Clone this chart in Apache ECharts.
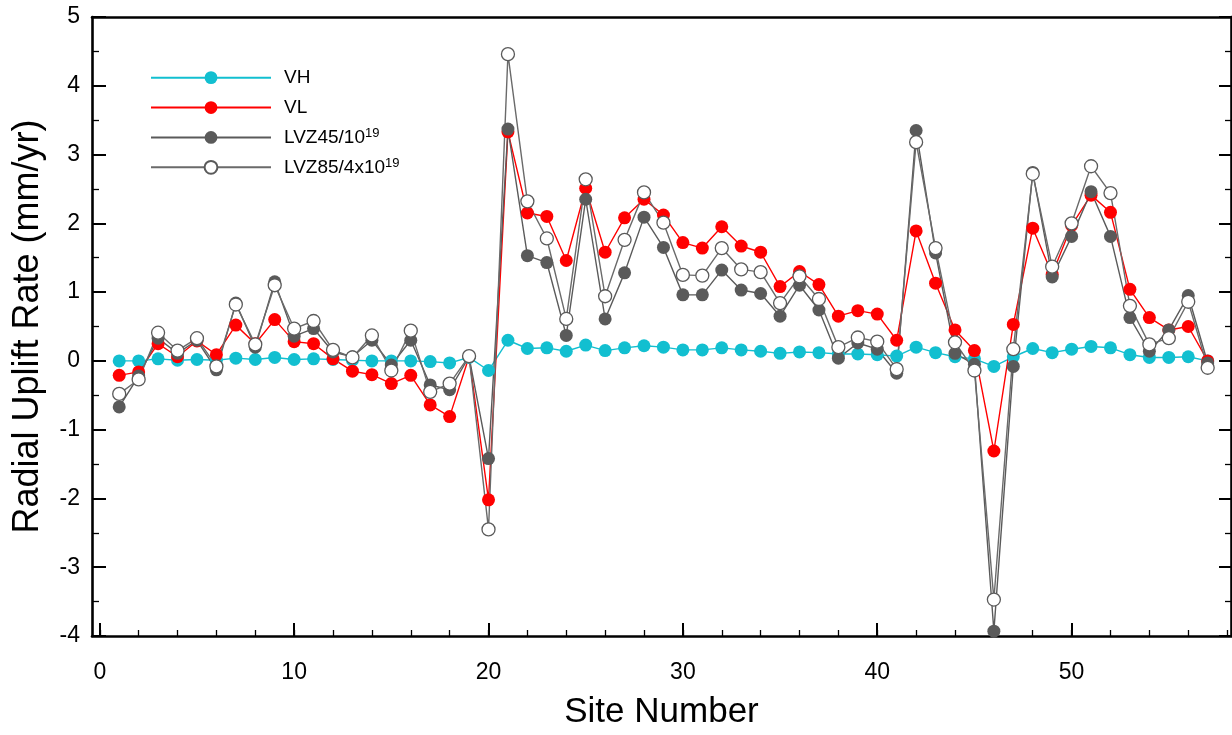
<!DOCTYPE html>
<html><head><meta charset="utf-8">
<script src="https://cdn.jsdelivr.net/npm/echarts@6/dist/echarts.min.js"></script>
<style>html,body{margin:0;padding:0;background:#fff;overflow:hidden}#c{width:1232px;height:735px}</style>
</head><body><div id="c"></div>
<script>
const sites = Array.from({length:57},(_,i)=>i+1);
const VH = [0.00,0.00,0.03,0.01,0.02,0.01,0.04,0.02,0.05,0.02,
  0.03,0.02,0.01,0.00,0.00,0.00,-0.01,-0.03,0.05,-0.14,
  0.30,0.18,0.19,0.14,0.23,0.15,0.19,0.22,0.20,0.16,
  0.16,0.19,0.16,0.14,0.11,0.13,0.12,0.10,0.10,0.09,
  0.07,0.20,0.12,0.06,0.03,-0.08,0.06,0.18,0.12,0.17,
  0.21,0.19,0.09,0.05,0.05,0.06,0.00];
const VL = [-0.21,-0.16,0.25,0.06,0.29,0.09,0.52,0.25,0.60,0.28,
  0.25,0.03,-0.15,-0.20,-0.33,-0.21,-0.64,-0.81,0.06,-2.02,
  3.33,2.15,2.10,1.46,2.51,1.58,2.08,2.35,2.12,1.72,
  1.64,1.95,1.67,1.58,1.08,1.30,1.11,0.65,0.73,0.68,
  0.30,1.89,1.13,0.45,0.15,-1.31,0.53,1.93,1.26,1.97,
  2.41,2.16,1.04,0.63,0.45,0.50,0.00];
const LVZ45 = [-0.67,-0.22,0.33,0.11,0.30,-0.13,0.84,0.20,1.15,0.36,
  0.47,0.13,0.06,0.30,-0.06,0.30,-0.35,-0.42,0.06,-1.42,
  3.37,1.53,1.43,0.37,2.35,0.61,1.28,2.09,1.65,0.96,
  0.96,1.32,1.03,0.98,0.65,1.10,0.74,0.04,0.26,0.17,
  -0.18,3.35,1.57,0.11,-0.05,-3.93,-0.08,2.74,1.22,1.81,
  2.46,1.81,0.63,0.14,0.45,0.95,-0.03];
const LVZ85 = [-0.48,-0.27,0.41,0.15,0.33,-0.08,0.82,0.24,1.10,0.47,
  0.58,0.16,0.05,0.37,-0.14,0.44,-0.45,-0.33,0.07,-2.45,
  4.46,2.32,1.78,0.61,2.64,0.94,1.76,2.45,2.01,1.25,
  1.24,1.64,1.33,1.29,0.84,1.23,0.90,0.20,0.34,0.28,
  -0.12,3.18,1.64,0.27,-0.14,-3.47,0.17,2.72,1.37,2.00,
  2.83,2.44,0.80,0.24,0.33,0.86,-0.10];
const xMajor = [0,10,20,30,40,50];
const xMinor = [0,2,4,6,8,10,12,14,16,18,20,22,24,26,28,30,32,34,36,38,40,42,44,46,48,50,52,54,56,58];
const seriesNames = ['VH','VL','LVZ45/10^19','LVZ85/4x10^19'];

const FONT = '"Liberation Sans", Arial, Helvetica, sans-serif';
const pairs = arr => sites.map((s,i)=>[s, arr[i]]);
const xCommon = {type:'value', min:-0.4, max:58.2, gridIndex:0, splitLine:{show:false}};
const yCommon = {type:'value', min:-4, max:5, interval:1, splitLine:{show:false}};
const axLine = {show:true, onZero:false, lineStyle:{color:'#000', width:2.6}};

const chart = echarts.init(document.getElementById('c'), null, {renderer:'canvas', width:1232, height:735});
chart.setOption({
  animation:false,
  backgroundColor:'#fff',
  grid:{left:92, width:1139, top:17, height:638, containLabel:false},
  legend:{
    orient:'vertical', left:145, top:62, itemWidth:120, itemHeight:16, itemGap:8.6,
    data: seriesNames,
    formatter: n => n.replace('^19','{sup|19}'),
    textStyle:{fontFamily:FONT, fontSize:19, color:'#000', lineHeight:21.3, padding:[0,0,0,8],
      rich:{sup:{fontFamily:FONT, fontSize:13, verticalAlign:'top', lineHeight:21.3, padding:[0,0,6,0]}}}
  },
  xAxis:[
    Object.assign({}, xCommon, {position:'bottom', axisLine:axLine,
      axisTick:{show:true, inside:true, length:13, customValues:xMajor, lineStyle:{color:'#000', width:2}},
      axisLabel:{show:true, customValues:xMajor, margin:25, fontFamily:FONT, fontSize:23, color:'#000'},
      name:'Site Number', nameLocation:'middle', nameGap:59,
      nameTextStyle:{fontFamily:FONT, fontSize:35, color:'#000', verticalAlign:'top'}}),
    Object.assign({}, xCommon, {position:'bottom', axisLine:{show:false, onZero:false},
      axisTick:{show:true, inside:true, length:6, customValues:xMinor, lineStyle:{color:'#000', width:1.3}},
      axisLabel:{show:false}}),
    Object.assign({}, xCommon, {position:'top', axisLine:axLine, axisTick:{show:false}, axisLabel:{show:false}})
  ],
  yAxis:[
    Object.assign({}, yCommon, {position:'left', axisLine:axLine,
      axisTick:{show:true, inside:true, length:14, lineStyle:{color:'#000', width:2}},
      minorTick:{show:true, splitNumber:2, length:7, lineStyle:{color:'#000', width:1.3}},
      axisLabel:{margin:12, fontFamily:FONT, fontSize:23, color:'#000'},
      name:'Radial Uplift Rate (mm/yr)', nameLocation:'middle', nameGap:46,
      nameTextStyle:{fontFamily:FONT, fontSize:36, color:'#000'}}),
    Object.assign({}, yCommon, {position:'right', axisLine:axLine,
      axisTick:{show:true, inside:true, length:12, lineStyle:{color:'#000', width:2}},
      minorTick:{show:true, splitNumber:2, length:6, lineStyle:{color:'#000', width:1.3}},
      axisLabel:{show:false}})
  ],
  series:[
    {name:seriesNames[0], type:'line', data:pairs(VH), symbol:'circle', symbolSize:13,
      lineStyle:{color:'#12bfd0', width:1.4}, itemStyle:{color:'#12bfd0'}},
    {name:seriesNames[1], type:'line', data:pairs(VL), symbol:'circle', symbolSize:13,
      lineStyle:{color:'#ff0000', width:1.4}, itemStyle:{color:'#ff0000'}},
    {name:seriesNames[2], type:'line', data:pairs(LVZ45), symbol:'circle', symbolSize:13,
      lineStyle:{color:'#5a5a5a', width:1.4}, itemStyle:{color:'#5a5a5a'}},
    {name:seriesNames[3], type:'line', data:pairs(LVZ85), symbol:'circle', symbolSize:13,
      lineStyle:{color:'#6a6a6a', width:1.4}, itemStyle:{color:'#ffffff', borderColor:'#5a5a5a', borderWidth:1.3}}
  ]
});
</script>
</body></html>
